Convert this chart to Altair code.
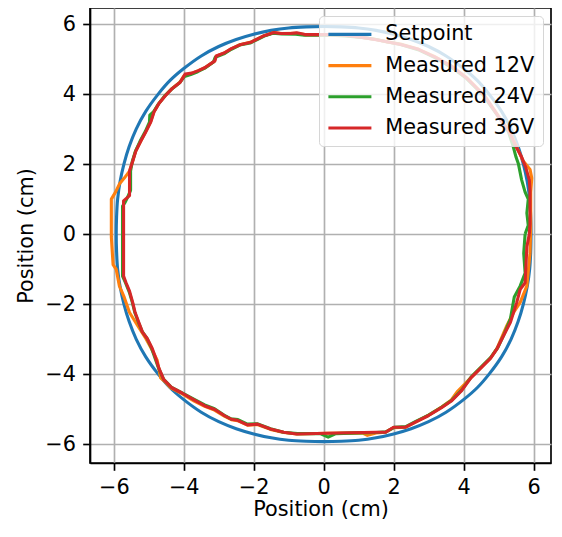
import altair as alt
import pandas as pd

series_names = ["Setpoint", "Measured 12V", "Measured 24V", "Measured 36V"]
series_colors = ["#1f77b4", "#ff7f0e", "#2ca02c", "#d62728"]
tick_values = [-6, -4, -2, 0, 2, 4, 6]

setpoint_x = [5.93, 5.92, 5.89, 5.82, 5.71, 5.56, 5.36, 5.09, 4.73, 4.39, 4.00, 3.50, 3.00, 2.50, 2.00, 1.50, 1.00, 0.50, 0.00,
              -0.50, -1.00, -1.50, -2.00, -2.50, -3.00, -3.50, -4.00, -4.39, -4.73, -5.09, -5.36, -5.56, -5.71, -5.82, -5.89, -5.92, -5.93,
              -5.92, -5.89, -5.82, -5.71, -5.56, -5.36, -5.09, -4.73, -4.39, -4.00, -3.50, -3.00, -2.50, -2.00, -1.50, -1.00, -0.50, 0.00,
              0.50, 1.00, 1.50, 2.00, 2.50, 3.00, 3.50, 4.00, 4.39, 4.73, 5.09, 5.36, 5.56, 5.71, 5.82, 5.89, 5.92, 5.93]
setpoint_y = [0.00, 0.50, 1.00, 1.50, 2.00, 2.50, 3.00, 3.50, 4.00, 4.39, 4.73, 5.09, 5.36, 5.56, 5.71, 5.82, 5.89, 5.92, 5.93,
              5.92, 5.89, 5.82, 5.71, 5.56, 5.36, 5.09, 4.73, 4.39, 4.00, 3.50, 3.00, 2.50, 2.00, 1.50, 1.00, 0.50, 0.00,
              -0.50, -1.00, -1.50, -2.00, -2.50, -3.00, -3.50, -4.00, -4.39, -4.73, -5.09, -5.36, -5.56, -5.71, -5.82, -5.89, -5.92, -5.93,
              -5.92, -5.89, -5.82, -5.71, -5.56, -5.36, -5.09, -4.73, -4.39, -4.00, -3.50, -3.00, -2.50, -2.00, -1.50, -1.00, -0.50, 0.00]

m12_x = [5.90, 5.92, 5.92, 5.95, 5.90, 5.70, 5.55, 5.32, 5.07, 4.86, 4.60, 4.10, 3.66, 3.20, 2.72, 2.20, 1.77, 1.50, 1.10, 0.60,
         0.20, -0.30, -0.55, -0.80, -1.20, -1.42, -1.70, -1.90, -2.10, -2.40, -2.64, -2.85, -3.08, -3.12, -3.40, -3.60, -3.80, -3.98,
         -4.12, -4.36, -4.54, -4.72, -4.86, -4.95, -5.09, -5.24, -5.38, -5.46, -5.55, -5.70, -5.84, -5.95, -6.07, -6.07, -6.02, -5.93,
         -5.84, -5.70, -5.55, -5.32, -5.08, -4.90, -4.76, -4.66, -4.50, -4.36, -4.05, -3.70, -3.40, -3.12, -2.84, -2.64, -2.46, -2.18,
         -1.90, -1.52, -1.14, -0.77, 0.08, 1.10, 1.25, 1.50, 1.77, 2.00, 2.33, 2.61, 2.99, 3.37, 3.65, 3.83, 4.02, 4.21, 4.49, 4.77,
         4.96, 5.24, 5.43, 5.62, 5.81, 5.90]
m12_y = [-0.55, 0.20, 1.20, 1.60, 1.85, 2.10, 2.42, 2.93, 3.28, 3.58, 3.96, 4.46, 4.80, 5.06, 5.28, 5.43, 5.50, 5.56, 5.62, 5.68,
         5.70, 5.70, 5.70, 5.74, 5.73, 5.76, 5.67, 5.57, 5.48, 5.41, 5.29, 5.17, 5.08, 4.94, 4.75, 4.66, 4.58, 4.54,
         4.33, 4.14, 3.95, 3.72, 3.48, 3.20, 2.92, 2.64, 2.36, 2.08, 1.80, 1.60, 1.43, 1.20, 1.00, -0.08, -0.87, -1.01,
         -1.48, -1.81, -2.24, -2.61, -2.99, -3.32, -3.60, -4.11, -4.25, -4.40, -4.56, -4.77, -4.92, -5.03, -5.20, -5.30, -5.33, -5.46,
         -5.44, -5.58, -5.67, -5.71, -5.69, -5.68, -5.75, -5.68, -5.66, -5.53, -5.52, -5.38, -5.18, -4.94, -4.74, -4.49, -4.30, -4.10, -3.82, -3.54,
         -3.26, -2.61, -2.24, -1.95, -1.48, -0.55]

m24_x = [5.76, 5.85, 5.81, 5.85, 5.76, 5.66, 5.57, 5.50, 5.42, 5.28, 5.05, 4.82, 4.57, 4.08, 3.63, 3.18, 2.70, 2.20, 1.77, 1.50,
         1.10, 0.60, 0.20, -0.30, -0.55, -0.80, -1.20, -1.45, -1.70, -1.90, -2.10, -2.40, -2.64, -2.85, -3.10, -3.15, -3.40, -3.60,
         -3.80, -3.98, -4.12, -4.36, -4.55, -4.72, -4.86, -4.97, -4.98, -5.10, -5.25, -5.38, -5.47, -5.52, -5.52, -5.62, -5.68, -5.75,
         -5.75, -5.66, -5.56, -5.47, -5.40, -5.28, -5.19, -5.05, -4.92, -4.82, -4.72, -4.58, -4.36, -4.06, -3.70, -3.40, -3.12, -2.85,
         -2.65, -2.45, -2.18, -1.90, -1.52, -1.15, -0.75, -0.10, 0.13, 0.35, 1.00, 1.50, 1.78, 2.02, 2.35, 2.62, 3.00, 3.38, 3.66, 3.95,
         4.22, 4.50, 4.78, 4.98, 5.16, 5.34, 5.45, 5.62, 5.76, 5.72, 5.76]
m24_y = [0.00, 0.25, 0.60, 1.00, 1.20, 1.55, 2.00, 2.20, 2.50, 2.93, 3.28, 3.60, 3.96, 4.45, 4.78, 5.04, 5.27, 5.42, 5.50, 5.56,
         5.62, 5.66, 5.68, 5.69, 5.68, 5.71, 5.72, 5.74, 5.66, 5.56, 5.46, 5.40, 5.28, 5.15, 5.05, 4.92, 4.74, 4.64,
         4.56, 4.50, 4.32, 4.13, 3.94, 3.72, 3.50, 3.40, 3.20, 2.93, 2.65, 2.37, 2.08, 1.80, 1.25, 1.02, 0.90, 0.80,
         -1.20, -1.40, -1.65, -1.95, -2.24, -2.56, -2.78, -2.98, -3.26, -3.55, -3.83, -4.14, -4.37, -4.53, -4.72, -4.88, -4.99, -5.17,
         -5.28, -5.30, -5.43, -5.42, -5.56, -5.66, -5.70, -5.70, -5.80, -5.70, -5.68, -5.67, -5.65, -5.52, -5.50, -5.36, -5.17, -4.94, -4.75, -4.45,
         -4.08, -3.80, -3.52, -3.24, -2.86, -2.42, -1.80, -1.48, -1.11, -0.55, 0.00]

m36_x = [5.88, 5.90, 5.90, 5.88, 5.78, 5.66, 5.52, 5.30, 5.05, 4.85, 4.59, 4.10, 3.65, 3.20, 2.71, 2.20, 1.77, 1.50, 1.11, 0.60,
         0.20, -0.30, -0.53, -0.77, -0.95, -1.24, -1.42, -1.70, -1.89, -2.08, -2.36, -2.64, -2.83, -3.07, -3.11, -3.39, -3.58, -3.77,
         -3.96, -4.10, -4.34, -4.52, -4.71, -4.85, -4.94, -5.08, -5.23, -5.37, -5.46, -5.55, -5.55, -5.72, -5.72, -5.65, -5.55, -5.46,
         -5.39, -5.27, -5.18, -5.04, -4.90, -4.80, -4.71, -4.57, -4.34, -4.05, -3.68, -3.39, -3.11, -2.83, -2.64, -2.46, -2.18, -1.89,
         -1.52, -1.14, -0.77, 0.08, 1.49, 1.77, 2.00, 2.33, 2.61, 2.99, 3.37, 3.65, 3.93, 4.21, 4.49, 4.77, 4.96, 5.15, 5.34, 5.52,
         5.62, 5.76, 5.81, 5.88]
m36_y = [0.00, 0.30, 1.24, 1.55, 1.90, 2.20, 2.46, 2.93, 3.28, 3.58, 3.96, 4.45, 4.80, 5.05, 5.28, 5.42, 5.50, 5.55, 5.62, 5.68,
         5.70, 5.70, 5.70, 5.75, 5.73, 5.73, 5.76, 5.67, 5.58, 5.48, 5.42, 5.30, 5.18, 5.09, 4.95, 4.76, 4.67, 4.60,
         4.57, 4.34, 4.15, 3.96, 3.73, 3.49, 3.21, 2.93, 2.65, 2.37, 2.08, 1.80, 1.10, 0.95, -1.20, -1.39, -1.63, -1.95,
         -2.24, -2.56, -2.80, -2.99, -3.27, -3.55, -3.83, -4.16, -4.39, -4.54, -4.75, -4.91, -5.01, -5.19, -5.29, -5.32, -5.45, -5.43,
         -5.57, -5.66, -5.71, -5.69, -5.66, -5.66, -5.52, -5.52, -5.38, -5.19, -4.96, -4.77, -4.49, -4.11, -3.83, -3.55, -3.27, -2.89, -2.52, -1.95,
         -1.58, -1.39, -0.36, 0.00]

frames = []
for name, xs, ys in zip(series_names,
                        [setpoint_x, m12_x, m24_x, m36_x],
                        [setpoint_y, m12_y, m24_y, m36_y]):
    frames.append(pd.DataFrame({"x": xs, "y": ys, "series": name, "i": list(range(len(xs)))}))
df = pd.concat(frames, ignore_index=True)

FONT = "DejaVu Sans"
FS = 20.8
LW = 3.1

x_scale = alt.Scale(domain=[-6.68, 6.5], nice=False, zero=False)
y_scale = alt.Scale(domain=[-6.54, 6.46], nice=False, zero=False)
label_expr = "replace(datum.label, '-', '\u2212')"
x_axis = alt.Axis(values=tick_values, title="Position (cm)", labelExpr=label_expr, titlePadding=2)
y_axis = alt.Axis(values=tick_values, title="Position (cm)", labelExpr=label_expr, titlePadding=8)
color_scale = alt.Scale(domain=series_names, range=series_colors)
legend = alt.Legend(title=None, orient="none", legendX=229, legendY=8,
                    symbolType="M-4.3,0H4.3", symbolSize=100, symbolStrokeWidth=LW,
                    symbolOffset=12.5, labelOffset=25,
                    labelFont=FONT, labelFontSize=FS, labelColor="black",
                    rowPadding=9.2, padding=8,
                    fillColor="rgba(255,255,255,0.8)", strokeColor="#d6d6d6", cornerRadius=4)

layers = []
for name in series_names:
    interp = "catmull-rom" if name == "Setpoint" else "linear"
    layers.append(
        alt.Chart(df).transform_filter(alt.datum.series == name)
        .mark_line(strokeWidth=LW, interpolate=interp, strokeJoin="round", clip=True)
        .encode(
            x=alt.X("x:Q", scale=x_scale, axis=x_axis),
            y=alt.Y("y:Q", scale=y_scale, axis=y_axis),
            color=alt.Color("series:N", scale=color_scale, legend=legend),
            order=alt.Order("i:Q"),
        )
    )

chart = alt.layer(*layers).properties(
    width=461, height=455,
    autosize=alt.AutoSizeParams(type="none"),
    padding={"left": 82, "top": 0, "right": 3, "bottom": 66},
).configure_view(
    stroke="black", strokeWidth=1.67
).configure_axis(
    labelFont=FONT, labelFontSize=FS, labelColor="black",
    titleFont=FONT, titleFontSize=FS, titleColor="black", titleFontWeight="normal",
    tickColor="black", tickWidth=1.67, tickSize=7.3, labelPadding=7.3,
    domainColor="black", domainWidth=1.67,
    gridColor="#b0b0b0", gridWidth=1.67,
)

chart.save("out.html", embed_options={"renderer": "svg", "actions": False})
